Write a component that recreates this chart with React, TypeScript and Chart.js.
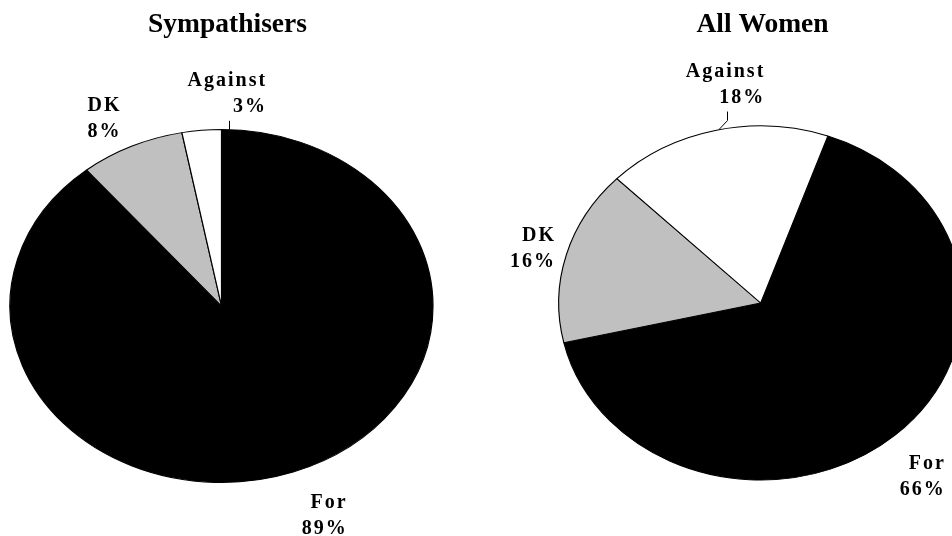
import React, { useEffect, useRef } from 'react';
import { Chart, registerables } from 'chart.js';

Chart.register(...registerables);

// ---- data ----
const categories = ['For', 'DK', 'Against'];
const sympathisersValues = [89, 8, 3];
const allWomenValues = [66, 16, 18];
const chartTitles = ['Sympathisers', 'All Women'];
const sliceColors = ['#000000', '#c0c0c0', '#ffffff'];

const FONT = '"Liberation Serif", "Times New Roman", Times, serif';

type PieCfg = {
  title: string;
  values: number[];
  rotation: number;
  left: number;
  cx: number;
  cy: number;
  rx: number;
  ry: number;
  titleX: number;
  labelShift: number[];
  labelDist: number[];
  leader: (number | null)[];
};

const pies: PieCfg[] = [
  {
    title: chartTitles[0],
    values: sympathisersValues,
    rotation: 0,
    left: 0,
    cx: 221.5,
    cy: 306,
    rx: 211.5,
    ry: 176.5,
    titleX: 227.5,
    labelShift: [-2.7, -2.2, 6.7],
    labelDist: [1.275, 1.201, 1.208],
    leader: [null, null, 2],
  },
  {
    title: chartTitles[1],
    values: allWomenValues,
    rotation: 19.4,
    left: 476,
    cx: 284.7,
    cy: 303,
    rx: 202,
    ry: 177,
    titleX: 286.5,
    labelShift: [2.3, -0.3, 5],
    labelDist: [1.262, 1.17, 1.252],
    leader: [null, null, 348],
  },
];

const W = 476;
const H = 536;

const ellipsePlugin = {
  id: 'ellipsePie',
  beforeDatasetsDraw(chart: any, _args: any, opts: any) {
    const arc = chart.getDatasetMeta(0).data[0];
    const ctx = chart.ctx;
    ctx.save();
    ctx.translate(arc.x, arc.y);
    ctx.scale(opts.sx, 1);
    ctx.translate(-arc.x, -arc.y);
  },
  afterDatasetsDraw(chart: any) {
    chart.ctx.restore();
  },
  afterDraw(chart: any, _args: any, opts: any) {
    const ctx = chart.ctx;
    const meta = chart.getDatasetMeta(0);
    const ds = chart.data.datasets[0];
    const labels = chart.data.labels;
    ctx.save();
    // title
    ctx.fillStyle = '#000';
    ctx.font = `bold 27.5px ${FONT}`;
    ctx.textAlign = 'center';
    ctx.textBaseline = 'alphabetic';
    ctx.fillText(opts.title, opts.titleX, 32.3);

    ctx.font = `bold 20px ${FONT}`;
    (ctx as any).letterSpacing = '2px';
    ctx.textAlign = 'right';
    ctx.strokeStyle = '#000';
    ctx.lineWidth = 1;
    meta.data.forEach((arc: any, i: number) => {
      const cx = arc.x;
      const cy = arc.y;
      const ry = arc.outerRadius;
      const rx = ry * opts.sx;
      const mid = (arc.startAngle + arc.endAngle) / 2 + (opts.labelShift[i] * Math.PI) / 180;
      const d = opts.labelDist[i];
      const px = cx + Math.cos(mid) * rx * d;
      const py = cy + Math.sin(mid) * ry * d;
      const lines = [String(labels[i]), `${ds.data[i]}%`];
      const bw = Math.max(...lines.map((l) => ctx.measureText(l).width));
      const xr = px + bw / 2;
      const b1 = py - 6.35;
      lines.forEach((l, k) => ctx.fillText(l, xr, b1 + k * 26));
      const la = opts.leader[i];
      if (la !== null && la !== undefined) {
        const a = ((la - 90) * Math.PI) / 180;
        const sx0 = px + 1.5;
        const sy0 = py + 28;
        const ex = cx + Math.cos(a) * rx;
        const ey = cy + Math.sin(a) * ry;
        ctx.beginPath();
        ctx.moveTo(Math.round(sx0) + 0.5, sy0);
        ctx.lineTo(Math.round(sx0) + 0.5, Math.min(sy0 + 9, ey));
        ctx.lineTo(ex, ey);
        ctx.stroke();
      }
    });
    ctx.restore();
  },
};

function PieCanvas({ cfg }: { cfg: PieCfg }) {
  const ref = useRef<HTMLCanvasElement>(null);
  useEffect(() => {
    if (!ref.current) return;
    const padLeft = Math.max(0, 2 * cfg.cx - W);
    const padRight = Math.max(0, W - 2 * cfg.cx);
    const padTop = Math.max(0, 2 * cfg.cy - H);
    const padBottom = Math.max(0, H - 2 * cfg.cy);
    const chart = new Chart(ref.current, {
      type: 'pie',
      data: {
        labels: categories,
        datasets: [
          {
            data: cfg.values,
            backgroundColor: sliceColors,
            borderColor: '#000000',
            borderWidth: 1,
            radius: cfg.ry,
            clip: false,
          } as any,
        ],
      },
      options: {
        animation: false,
        responsive: false,
        devicePixelRatio: 1,
        rotation: cfg.rotation,
        radius: cfg.ry,
        layout: { padding: { left: padLeft, right: padRight, top: padTop, bottom: padBottom } },
        plugins: {
          legend: { display: false },
          title: { display: false },
          tooltip: { enabled: false },
          ellipsePie: {
            sx: cfg.rx / cfg.ry,
            title: cfg.title,
            titleX: cfg.titleX,
            labelShift: cfg.labelShift,
            labelDist: cfg.labelDist,
            leader: cfg.leader,
          },
        } as any,
      } as any,
      plugins: [ellipsePlugin as any],
    });
    return () => chart.destroy();
  }, [cfg]);
  return (
    <canvas
      ref={ref}
      width={W}
      height={H}
      style={{ position: 'absolute', left: cfg.left, top: 0, width: W, height: H }}
    />
  );
}

export default function App() {
  return (
    <div style={{ position: 'absolute', left: 0, top: 0, width: 952, height: 536, background: '#fff', overflow: 'hidden' }}>
      {pies.map((p) => (
        <PieCanvas key={p.title} cfg={p} />
      ))}
    </div>
  );
}
